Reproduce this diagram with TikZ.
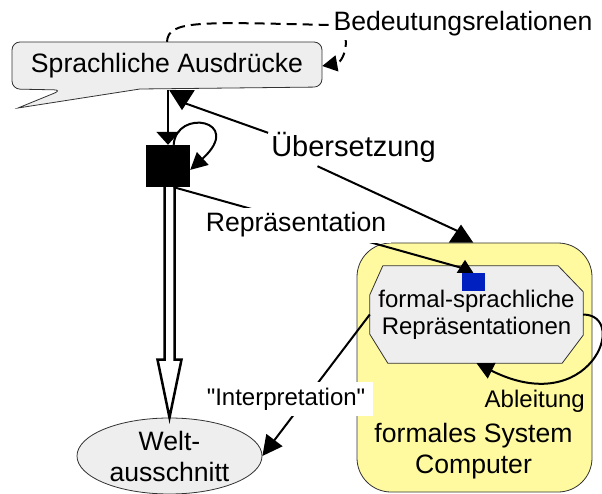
\documentclass[tikz,border=0pt]{standalone}
\usepackage{fontspec}
\setmainfont{Liberation Sans}[Ligatures=TeXOff]
\usetikzlibrary{arrows.meta,calc,shapes.geometric}
\definecolor{boxgray}{RGB}{238,238,238}
\definecolor{sysyellow}{RGB}{255,250,160}
\definecolor{repblue}{RGB}{0,32,192}
\definecolor{edgegray}{RGB}{50,50,50}
\tikzset{
  conn/.style={line width=2pt,-{Triangle[length=17pt,width=17pt]}},
  revconn/.style={line width=2pt},
  dashconn/.style={line width=2pt,dash pattern=on 10pt off 6pt,-{Triangle[length=15pt,width=16pt]}},
  hollow/.style={line width=2.5pt,line join=miter},
  outline/.style={draw=edgegray,line width=0.8pt,fill=boxgray},
  shapebox/.style={outline,inner sep=0pt},
  lbl/.style={font=\fontsize{26.6}{31}\selectfont},
  lblsmall/.style={font=\fontsize{24}{27}\selectfont},
}
\begin{document}
\begin{tikzpicture}[x=1pt,y=-1pt]
\useasboundingbox (0,0) rectangle (602,494);

% formales System
\node[draw=edgegray,line width=0.8pt,fill=sysyellow,rounded corners=34pt,
      minimum width=235pt,minimum height=249pt] (sys) at (474.5,367.5) {};
\node[lbl,align=center] (systxt) at (473.5,450.7) {formales System\\Computer};
\node[minimum width=213pt,minimum height=97pt,inner sep=0pt] (fsr) at (476.5,314.5) {};
\filldraw[outline] ($(fsr.north west)+(13,0)$) -- ($(fsr.north east)+(-25,0)$)
      -- ($(fsr.north east)+(0,26)$) -- ($(fsr.south east)+(0,-28)$)
      -- ($(fsr.south east)+(-21,0)$) -- ($(fsr.south west)+(18,0)$)
      -- ($(fsr.south west)+(0,-29)$) -- ($(fsr.north west)+(0,29)$) -- cycle;
\node[lblsmall,align=center] (fsrtxt) at (fsr) {formal-sprachliche\\Repräsentationen};
\node[fill=repblue,minimum width=23pt,minimum height=18pt,inner sep=0pt] (blue) at (473.5,282) {};

% Welt
\node[shapebox,ellipse,minimum width=185pt,minimum height=76pt,lbl,align=center] (welt) at (169.5,456)
      {Welt-\\ausschnitt};

% Sprache
\filldraw[outline] (62,90) -- (18,108) -- (140,89) [rounded corners=8pt] -- (322,87)
      -- (322,42) -- (12,42) -- (12,89) -- cycle;
\node[lbl,minimum width=310pt,minimum height=48pt,inner sep=0pt] (sa) at (167,66) {Sprachliche Ausdrücke};
\node[fill=black,minimum width=44pt,minimum height=42pt,inner sep=0pt] (rep) at (168,166) {};

\coordinate (sabase) at ($(sa.south)+(15,0)$);
\coordinate (sysbase) at ($(sys.north)+(-13.5,0)$);
\coordinate (bluebase) at ($(blue.north)+(-8.5,0)$);
\coordinate (hb) at ($(welt.north)+(0,-58)$);

% Bedeutungsrelationen
\draw[dashconn] (sa.north) .. controls (168,20) and (200,22) .. (330,25)
      .. controls (355,27) and (345,62) .. (sa.east);
\node[lbl,fill=white,inner sep=3pt,anchor=base] (bed) at (463,31) {Bedeutungsrelationen};

\draw[conn,-{Triangle[length=13pt,width=23pt]}] (sa.south -| rep.north) -- (rep.north);
\draw[conn] (rep.75) .. controls (176,108) and (245,120) .. (rep.-10);

% Repraesentation
\draw[hollow] ($(hb |- rep.south)+(-5,0)$) -- ($(hb)+(-5,0)$) -- ($(hb)+(-12,0)$) -- (welt.north)
      -- ($(hb)+(12,0)$) -- ($(hb)+(5,0)$) -- ($(hb |- rep.south)+(5,0)$);
\draw[revconn,-{Triangle[reversed,length=13pt,width=16pt]}] (rep.-75) -- ($(bluebase)+(0,-4)$) -- (bluebase);
\node[lbl,fill=white,inner sep=5pt,anchor=base] (repl) at (296,232) {Repräsentation};

% Uebersetzung
\node[font=\fontsize{29}{34}\selectfont,fill=white,inner sep=3pt,anchor=base] (ueb) at (353.5,157) {Übersetzung};
\draw[revconn,-{Triangle[reversed,length=20pt,width=25pt]}] (ueb.170) -- ($(sabase)+(0,12)$) -- (sabase);
\draw[revconn,-{Triangle[reversed,length=18pt,width=24pt]}] (ueb.-153) -- ($(sysbase)+(0,-10)$) -- (sysbase);

% Interpretation
\draw[conn,-{Triangle[length=20pt,width=20pt]}] (fsr.west) -- (welt.east);
\node[lblsmall,fill=white,inner xsep=8pt,inner ysep=6pt,anchor=base] (intp) at (286,405) {"Interpretation"};

% Ableitung
\draw[conn] (fsr.east) .. controls (630,315) and (590,420) .. (fsr.south);
\node[lblsmall,inner sep=0pt,anchor=base east] (abl) at (585,407) {Ableitung};
\end{tikzpicture}
\end{document}
